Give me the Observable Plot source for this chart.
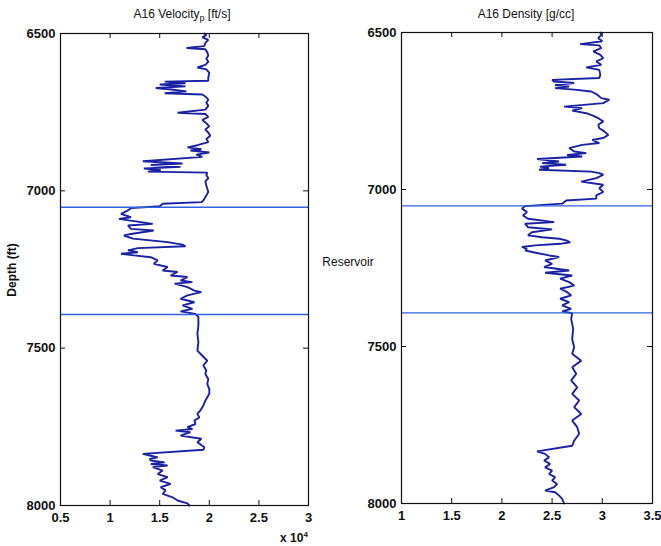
<!DOCTYPE html>
<html>
<head>
<meta charset="utf-8">
<script src="https://cdn.jsdelivr.net/npm/d3@7"></script>
<script src="https://cdn.jsdelivr.net/npm/@observablehq/plot@0.6"></script>
<style>
  html, body { margin: 0; padding: 0; background: #fff; }
  #wrap { position: relative; width: 661px; height: 546px; background: #fff; font-family: "Liberation Sans", Arial, sans-serif; color: #111; }
  #wrap svg { position: absolute; top: 0; overflow: visible; }
  .lbl { position: absolute; transform: translate(-50%, -50%); white-space: nowrap; font-size: 12px; line-height: 1; }
</style>
</head>
<body>
<div id="wrap"></div>
<script>
// ---- Data ----
const depthTicks = [6500, 7000, 7500, 8000];
const velTicks = [0.5, 1, 1.5, 2, 2.5, 3];          // x 10^4 ft/s
const denTicks = [1, 1.5, 2, 2.5, 3, 3.5];          // g/cc
const reservoirBounds = [7052, 7393];               // ft

const velDepth = [6500,6505,6512,6520,6530,6540,6546,6550,6560,6570,6580,6590,6600,6608,6614,6625,6640,6650,6653,6658,6662,6668,6673,6678,6684,6690,6694,6700,6710,6720,6730,6742,6752,6756,6765,6775,6785,6795,6805,6815,6825,6835,6845,6855,6862,6868,6872,6878,6885,6892,6906,6913,6918,6924,6929,6934,6939,6942,6950,6960,6970,6983,7004,7020,7031,7036,7041,7049,7055,7062,7073,7084,7089,7094,7105,7110,7121,7126,7137,7142,7152,7163,7171,7176,7182,7189,7195,7200,7205,7211,7221,7232,7242,7253,7258,7269,7274,7285,7290,7295,7306,7317,7322,7332,7343,7354,7364,7375,7383,7391,7401,7428,7454,7481,7508,7524,7540,7555,7571,7582,7598,7614,7630,7645,7656,7667,7682,7698,7709,7720,7730,7741,7751,7757,7762,7767,7778,7788,7799,7815,7823,7836,7841,7847,7852,7857,7863,7868,7873,7878,7889,7900,7910,7921,7931,7942,7952,7963,7974,7984,7993,8000];
const velocity = [19500,19700,19300,19900,19600,19500,17700,19600,19800,19900,19700,19900,19600,18800,19700,20000,19900,19900,15500,17600,15000,17600,14600,16200,17700,15500,19300,19600,19900,19700,19900,19600,16800,19600,19900,19300,19700,20000,19600,19900,20100,19700,19900,18800,17800,19200,18100,20000,18700,19300,13300,17300,14100,17100,13400,15100,13800,19800,19700,19900,19600,19700,19900,19600,19400,19200,15300,15000,12100,11800,11100,12100,10900,11900,14300,11800,12100,14400,12100,11400,12300,15800,17300,17600,12800,11800,12800,11100,12400,14100,14800,14400,15800,15300,16800,16100,17800,17100,18300,16500,17800,18500,19200,17800,17100,18500,17300,18300,17100,18600,18900,18900,18800,18900,18800,19300,19800,19400,19700,19600,19900,19800,20000,20000,19800,19600,19400,19100,18800,19000,18500,18600,17800,18300,16600,18100,17100,19200,18800,19500,19400,13300,14000,14800,14000,14100,15500,14100,15800,14300,15300,14800,15800,15000,16100,15100,15600,15300,16300,16800,17800,18000];

const denDepth = [6500,6507,6518,6528,6537,6541,6550,6560,6571,6582,6592,6603,6611,6619,6635,6645,6651,6656,6661,6667,6672,6677,6682,6688,6698,6709,6714,6725,6736,6741,6749,6757,6764,6773,6783,6794,6805,6815,6826,6836,6842,6852,6858,6868,6879,6884,6890,6895,6903,6911,6916,6921,6927,6932,6937,6943,6948,6953,6964,6975,6985,6996,7008,7019,7029,7035,7045,7053,7061,7072,7083,7093,7104,7109,7120,7127,7136,7146,7152,7157,7162,7168,7173,7178,7183,7189,7194,7199,7210,7215,7226,7237,7247,7258,7265,7274,7284,7295,7306,7316,7327,7337,7348,7359,7369,7380,7388,7394,7412,7444,7476,7502,7523,7545,7566,7587,7608,7630,7651,7672,7693,7715,7736,7757,7778,7800,7816,7834,7842,7853,7863,7874,7885,7895,7906,7916,7927,7938,7948,7959,7964,7975,7985,8000];
const density = [2.98,2.99,2.96,3.00,2.78,2.97,2.99,2.91,2.98,3.01,2.94,2.99,2.84,2.97,2.98,2.97,2.50,2.52,2.72,2.53,2.67,2.53,2.72,2.89,2.95,2.99,3.07,3.01,2.62,2.80,2.70,2.84,2.90,2.96,3.01,2.96,2.97,3.02,3.06,3.01,2.90,2.97,2.80,2.67,2.72,2.84,2.65,2.80,2.35,2.57,2.40,2.64,2.38,2.47,2.37,2.89,2.97,3.01,2.94,2.79,3.01,2.97,3.01,2.94,2.94,2.64,2.60,2.23,2.20,2.25,2.21,2.26,2.52,2.23,2.26,2.50,2.30,2.26,2.40,2.57,2.64,2.68,2.58,2.33,2.20,2.25,2.23,2.30,2.47,2.57,2.43,2.50,2.42,2.67,2.43,2.70,2.58,2.67,2.72,2.58,2.65,2.69,2.58,2.67,2.60,2.69,2.60,2.70,2.69,2.71,2.70,2.72,2.70,2.79,2.70,2.74,2.69,2.75,2.70,2.77,2.72,2.79,2.70,2.75,2.77,2.72,2.70,2.35,2.43,2.47,2.42,2.48,2.43,2.50,2.47,2.53,2.50,2.55,2.52,2.43,2.53,2.57,2.60,2.62];

// ---- Build tables ----
const velData = velDepth.map((d, i) => ({depth: d, v: velocity[i] / 1e4}));
const denData = denDepth.map((d, i) => ({depth: d, rho: density[i]}));

const curveColor = "#1a22a3";
const ruleColor = "#2e62e0";
const font = "'Liberation Sans', Arial, sans-serif";

function panel({data, xKey, xDomain, xTicks, width, height, mt, mb, ml, mr}) {
  const iw = width - ml - mr, ih = height - mt - mb;
  return Plot.plot({
    width, height,
    marginTop: mt, marginBottom: mb, marginLeft: ml, marginRight: mr,
    style: {fontFamily: font, fontSize: "13px", fontWeight: "bold", color: "#111", background: "transparent", overflow: "visible"},
    x: {domain: xDomain, label: null},
    y: {domain: [6500, 8000], reverse: true, label: null},
    marks: [
      Plot.line(data, {x: xKey, y: "depth", stroke: curveColor, strokeWidth: 1.9, strokeLinejoin: "miter", curve: "linear"}),
      Plot.ruleY(reservoirBounds, {stroke: ruleColor, strokeWidth: 1.4}),
      Plot.frame({stroke: "#111", strokeWidth: 1.2}),
      Plot.axisX({ticks: xTicks, tickSize: 0, tickPadding: 7, tickFormat: d => String(d), anchor: "bottom", label: null}),
      Plot.axisY({ticks: depthTicks, tickSize: 0, tickPadding: 5, tickFormat: d => String(d), anchor: "left", label: null}),
      Plot.tickX(xTicks, {x: d => d, insetTop: ih - 5, stroke: "#111"}),
      Plot.tickX(xTicks, {x: d => d, insetBottom: ih - 5, stroke: "#111"}),
      Plot.tickY(depthTicks, {y: d => d, insetRight: iw - 5, stroke: "#111"}),
      Plot.tickY(depthTicks, {y: d => d, insetLeft: iw - 5, stroke: "#111"})
    ]
  });
}

const wrap = document.getElementById("wrap");

const left = panel({data: velData, xKey: "v", xDomain: [0.5, 3], xTicks: velTicks,
  width: 330, height: 546, mt: 33, mb: 41, ml: 60, mr: 22});
left.style.left = "0px";
wrap.appendChild(left);

const right = panel({data: denData, xKey: "rho", xDomain: [1, 3.5], xTicks: denTicks,
  width: 330, height: 546, mt: 32, mb: 43, ml: 70, mr: 9});
right.style.left = "331px";
wrap.appendChild(right);

function label(html, x, y, extra = "") {
  const el = document.createElement("div");
  el.className = "lbl";
  el.innerHTML = html;
  el.style.left = x + "px";
  el.style.top = y + "px";
  if (extra) el.style.cssText += extra;
  wrap.appendChild(el);
}
label("A16 Velocity<sub style='font-size:9px;vertical-align:-3px'>p</sub> [ft/s]", 182, 15);
label("A16 Density [g/cc]", 526, 14);
label("Depth (ft)", 12, 270, "transform: translate(-50%,-50%) rotate(-90deg); font-weight:bold;");
label("Reservoir", 348, 262);
label("x 10<sup style='font-size:8px;vertical-align:5px'>4</sup>", 294, 537, "font-weight:bold;");
</script>
</body>
</html>
